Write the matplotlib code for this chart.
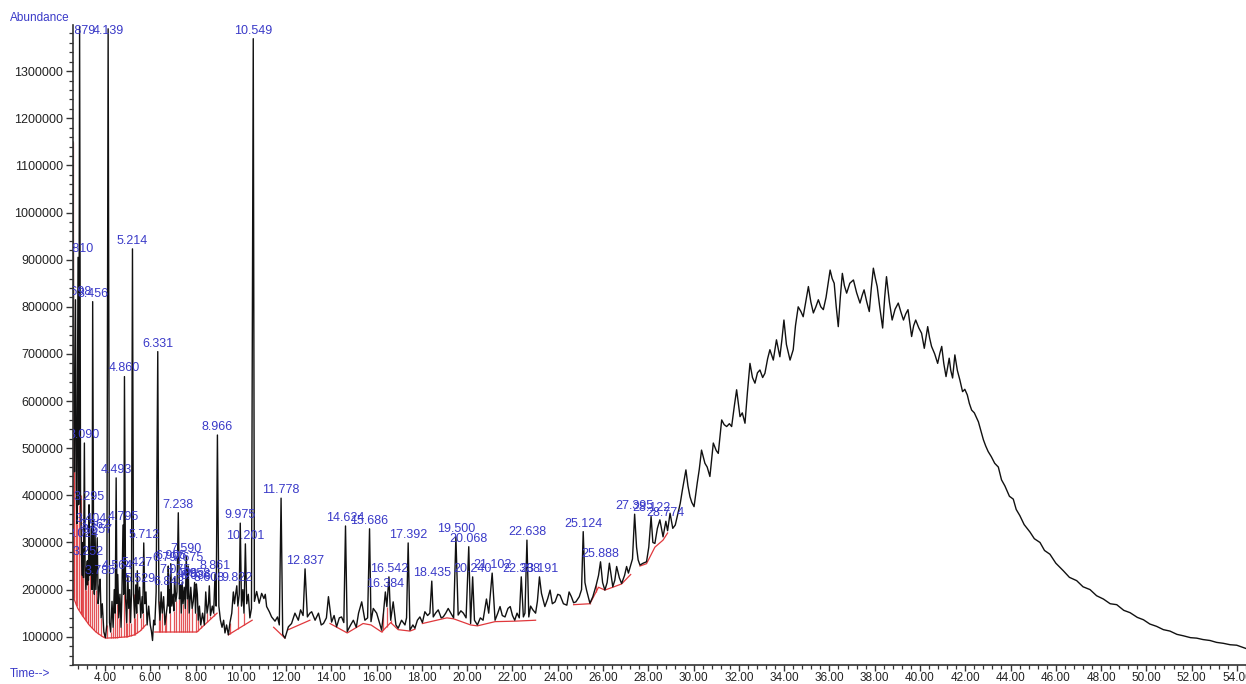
import numpy as np
import matplotlib
matplotlib.use("Agg")
import matplotlib.pyplot as plt
from matplotlib.ticker import MultipleLocator, FixedLocator, FuncFormatter

plt.rcParams['font.family'] = ['Liberation Sans', 'DejaVu Sans']

# ---- labelled peaks (retention time, label, apex abundance) ----
peak_rt = [2.698, 2.810, 2.879, 3.024, 3.090, 3.252, 3.295, 3.404, 3.456, 3.562,
           3.657, 3.785, 4.139, 4.493, 4.564, 4.795, 4.860, 5.214, 5.427, 5.529,
           5.712, 6.331, 6.797, 6.843, 6.905, 7.075, 7.238, 7.408, 7.590, 7.675,
           7.958, 8.036, 8.608, 8.861, 8.966, 9.822, 9.975, 10.201, 10.549, 11.778,
           12.837, 14.624, 15.686, 16.384, 16.542, 17.392, 18.435, 19.500, 20.068, 20.240,
           21.102, 22.388, 22.638, 23.191, 25.124, 25.888, 27.395, 28.122, 28.774]
peak_label = ["2.698", "2.810", "2.879", "3.024", "3.090", "3.252", "3.295", "3.404", "3.456", "3.562",
              "3.657", "3.785", "4.139", "4.493", "4.564", "4.795", "4.860", "5.214", "5.427", "5.529",
              "5.712", "6.331", "6.797", "6.843", "6.905", "7.075", "7.238", "7.408", "7.590", "7.675",
              "7.958", "8.036", "8.608", "8.861", "8.966", "9.822", "9.975", "10.201", "10.549", "11.778",
              "12.837", "14.624", "15.686", "16.384", "16.542", "17.392", "18.435", "19.500", "20.068", "20.240",
              "21.102", "22.388", "22.638", "23.191", "25.124", "25.888", "27.395", "28.122", "28.774"]
peak_abund = [815000, 905000, 1395000, 300000, 511000, 262000, 380000, 333000, 811000, 320000,
              310000, 222000, 1390000, 437000, 232000, 337000, 652000, 923000, 240000, 205000,
              299000, 705000, 250000, 200000, 255000, 225000, 363000, 215000, 270000, 250000,
              215000, 212000, 208000, 233000, 528000, 208000, 341000, 297000, 1369000, 394000,
              244000, 335000, 329000, 195000, 227000, 299000, 218000, 312000, 291000, 227000,
              235000, 227000, 305000, 227000, 323000, 259000, 360000, 355000, 345000]

# ---- rest of the total ion chromatogram (time, abundance) ----
trace_time = [
    2.59, 2.62, 2.65, 2.73, 2.76, 2.84, 2.92, 2.96, 3.00, 3.05, 3.12, 3.16, 3.20, 3.23, 3.27,
    3.33, 3.37, 3.43, 3.50, 3.53, 3.60, 3.70, 3.74, 3.83, 3.88, 3.95, 4.02, 4.08, 4.20, 4.25,
    4.31, 4.36, 4.41, 4.45, 4.53, 4.61, 4.66, 4.71, 4.75, 4.83, 4.91, 4.96, 5.01, 5.05, 5.09,
    5.13, 5.17, 5.26, 5.31, 5.36, 5.40, 5.47, 5.58, 5.64, 5.67, 5.76, 5.81, 5.86, 5.93, 6.00,
    6.05, 6.10, 6.15, 6.20, 6.26, 6.38, 6.43, 6.48, 6.53, 6.59, 6.65, 6.71, 6.76, 6.82, 6.87,
    6.95, 7.01, 7.04, 7.13, 7.18, 7.29, 7.34, 7.37, 7.45, 7.50, 7.55, 7.64, 7.72, 7.79, 7.85,
    7.90, 8.00, 8.08, 8.12, 8.17, 8.23, 8.31, 8.39, 8.45, 8.51, 8.57, 8.66, 8.74, 8.80, 8.91,
    9.03, 9.10, 9.17, 9.24, 9.30, 9.37, 9.45, 9.52, 9.60, 9.67, 9.72, 9.77, 9.87, 9.93, 10.03,
    10.09, 10.14, 10.26, 10.33, 10.40, 10.47, 10.60, 10.70, 10.81, 10.92, 11.02, 11.08, 11.14, 11.26, 11.36,
    11.51, 11.62, 11.70, 11.85, 11.95, 12.10, 12.24, 12.39, 12.54, 12.64, 12.75, 12.94, 13.05, 13.13, 13.28,
    13.43, 13.55, 13.65, 13.78, 13.87, 14.01, 14.12, 14.23, 14.35, 14.45, 14.55, 14.70, 14.85, 14.97, 15.10,
    15.20, 15.34, 15.48, 15.60, 15.75, 15.85, 16.00, 16.12, 16.22, 16.30, 16.45, 16.62, 16.73, 16.85, 16.95,
    17.10, 17.25, 17.32, 17.47, 17.60, 17.69, 17.80, 17.91, 18.02, 18.13, 18.25, 18.35, 18.50, 18.60, 18.72,
    18.85, 18.94, 19.05, 19.16, 19.30, 19.40, 19.60, 19.72, 19.83, 19.95, 20.15, 20.32, 20.45, 20.58, 20.70,
    20.85, 20.95, 21.23, 21.35, 21.45, 21.55, 21.67, 21.80, 21.90, 22.00, 22.10, 22.20, 22.30, 22.48, 22.55,
    22.72, 22.80, 22.90, 23.02, 23.10, 23.28, 23.43, 23.55, 23.66, 23.76, 23.88, 24.00, 24.10, 24.25, 24.40,
    24.50, 24.60, 24.70, 24.80, 24.95, 25.05, 25.20, 25.27, 25.42, 25.55, 25.70, 25.80, 25.98, 26.08, 26.18,
    26.28, 26.43, 26.52, 26.60, 26.72, 26.82, 26.95, 27.04, 27.12, 27.22, 27.30, 27.48, 27.55, 27.63, 27.77,
    27.92, 28.02, 28.20, 28.29, 28.40, 28.51, 28.65, 28.85, 28.96, 29.08, 29.19, 29.30, 29.41, 29.50, 29.66,
    29.75, 29.84, 29.92, 30.02, 30.16, 30.25, 30.35, 30.50, 30.60, 30.72, 30.87, 31.00, 31.09, 31.24, 31.35,
    31.46, 31.58, 31.68, 31.80, 31.90, 32.05, 32.15, 32.27, 32.38, 32.49, 32.60, 32.71, 32.82, 32.93, 33.05,
    33.15, 33.27, 33.37, 33.52, 33.66, 33.81, 33.90, 33.99, 34.10, 34.26, 34.40, 34.50, 34.62, 34.74, 34.84,
    34.95, 35.07, 35.18, 35.29, 35.40, 35.51, 35.62, 35.73, 35.85, 36.03, 36.12, 36.21, 36.30, 36.39, 36.48,
    36.57, 36.66, 36.76, 36.90, 37.06, 37.20, 37.35, 37.45, 37.53, 37.65, 37.76, 37.85, 37.94, 38.03, 38.11,
    38.22, 38.35, 38.44, 38.52, 38.65, 38.77, 38.90, 39.04, 39.15, 39.27, 39.37, 39.47, 39.55, 39.63, 39.72,
    39.81, 39.95, 40.07, 40.19, 40.34, 40.42, 40.51, 40.65, 40.78, 40.88, 40.96, 41.05, 41.15, 41.29, 41.36,
    41.44, 41.54, 41.65, 41.76, 41.88, 41.98, 42.09, 42.18, 42.28, 42.40, 42.58, 42.70, 42.80, 42.90, 43.01,
    43.15, 43.30, 43.46, 43.60, 43.75, 43.95, 44.12, 44.25, 44.41, 44.60, 44.86, 45.05, 45.30, 45.50, 45.74,
    46.00, 46.33, 46.60, 46.92, 47.20, 47.51, 47.80, 48.10, 48.40, 48.69, 49.00, 49.28, 49.60, 49.87, 50.15,
    50.45, 50.75, 51.04, 51.35, 51.63, 51.95, 52.22, 52.50, 52.81, 53.10, 53.40, 53.70, 53.99, 54.40]
trace_abund = [
    1150000, 600000, 450000, 420000, 340000, 380000, 400000, 280000, 230000, 225000, 250000, 200000, 260000, 210000, 220000,
    230000, 260000, 200000, 230000, 190000, 200000, 170000, 200000, 140000, 170000, 110000, 98000, 125000, 130000, 110000,
    175000, 120000, 200000, 150000, 170000, 140000, 190000, 120000, 195000, 190000, 180000, 130000, 230000, 160000, 200000,
    130000, 190000, 190000, 140000, 210000, 150000, 170000, 140000, 185000, 150000, 170000, 195000, 125000, 165000, 125000,
    112000, 92000, 135000, 125000, 195000, 175000, 135000, 195000, 150000, 185000, 125000, 150000, 170000, 165000, 150000,
    165000, 190000, 155000, 175000, 195000, 180000, 210000, 150000, 170000, 205000, 160000, 180000, 150000, 205000, 160000,
    175000, 150000, 190000, 135000, 165000, 125000, 150000, 125000, 195000, 150000, 170000, 145000, 165000, 150000, 165000,
    165000, 135000, 120000, 135000, 108000, 125000, 104000, 130000, 150000, 195000, 170000, 190000, 165000, 190000, 165000,
    200000, 150000, 170000, 190000, 140000, 160000, 175000, 196000, 171000, 192000, 181000, 190000, 164000, 153000, 142000,
    133000, 142000, 125000, 105000, 97000, 121000, 128000, 150000, 135000, 157000, 145000, 142000, 150000, 153000, 135000,
    150000, 125000, 128000, 140000, 185000, 131000, 145000, 121000, 140000, 142000, 130000, 111000, 125000, 135000, 120000,
    150000, 174000, 135000, 140000, 132000, 160000, 150000, 130000, 114000, 150000, 164000, 135000, 174000, 125000, 118000,
    135000, 125000, 140000, 114000, 125000, 118000, 135000, 142000, 130000, 153000, 145000, 150000, 142000, 150000, 157000,
    140000, 142000, 150000, 160000, 148000, 140000, 146000, 155000, 150000, 140000, 128000, 135000, 125000, 140000, 135000,
    180000, 150000, 135000, 150000, 164000, 145000, 142000, 160000, 164000, 145000, 135000, 150000, 140000, 142000, 150000,
    142000, 165000, 157000, 150000, 175000, 192000, 164000, 180000, 199000, 170000, 174000, 190000, 188000, 170000, 167000,
    195000, 185000, 172000, 174000, 185000, 200000, 215000, 199000, 171000, 185000, 210000, 230000, 215000, 199000, 215000,
    256000, 206000, 220000, 249000, 225000, 213000, 230000, 249000, 235000, 252000, 265000, 290000, 263000, 252000, 256000,
    259000, 290000, 300000, 298000, 330000, 348000, 312000, 325000, 362000, 330000, 337000, 360000, 383000, 410000, 454000,
    420000, 397000, 385000, 376000, 426000, 455000, 496000, 468000, 460000, 440000, 511000, 495000, 489000, 560000, 550000,
    546000, 552000, 546000, 590000, 624000, 567000, 575000, 553000, 620000, 680000, 650000, 638000, 660000, 666000, 650000,
    659000, 690000, 709000, 687000, 730000, 694000, 730000, 772000, 720000, 687000, 709000, 760000, 800000, 790000, 779000,
    810000, 843000, 810000, 787000, 800000, 815000, 800000, 794000, 820000, 878000, 860000, 850000, 800000, 758000, 820000,
    871000, 845000, 829000, 850000, 857000, 830000, 808000, 825000, 836000, 810000, 790000, 840000, 882000, 860000, 843000,
    800000, 755000, 820000, 864000, 810000, 772000, 795000, 808000, 790000, 772000, 785000, 794000, 765000, 737000, 760000,
    772000, 755000, 744000, 712000, 758000, 735000, 716000, 700000, 680000, 702000, 716000, 680000, 652000, 691000, 665000,
    649000, 698000, 665000, 645000, 620000, 625000, 613000, 595000, 581000, 575000, 556000, 535000, 518000, 505000, 493000,
    482000, 468000, 460000, 433000, 420000, 398000, 392000, 370000, 357000, 338000, 322000, 308000, 300000, 283000, 275000,
    256000, 240000, 226000, 219000, 206000, 200000, 187000, 180000, 170000, 168000, 156000, 151000, 141000, 136000, 127000,
    122000, 115000, 112000, 105000, 102000, 98000, 97000, 94000, 92000, 88000, 86000, 83000, 82000, 75000]

# ---- integration baseline (red), None = break ----
base_time = [2.59, 2.80, 3.00, 3.30, 3.60, 3.90, 4.02, 4.50, 5.00, 5.30, 5.55, 5.80, None,
             6.20, 8.06, 8.95, None,
             9.45, 10.50, None,
             11.45, 11.95, None,
             12.10, 13.05, None,
             13.94, 14.70, 15.40, 15.75, 16.22, 16.62, 16.95, 17.47, 17.69, None,
             18.02, 19.10, 19.40, 20.15, 20.45, 21.23, 22.10, 23.02, None,
             24.70, 25.42, 25.80, 26.08, 26.43, 26.82, 27.22, None,
             27.63, 27.92, 28.29, 28.65, 28.85]
base_abund = [185000, 160000, 145000, 125000, 110000, 100000, 97000, 98000, 100000, 104000, 112000, 125000, None,
              110000, 110000, 150000, None,
              104000, 135000, None,
              120000, 97000, None,
              115000, 135000, None,
              128000, 108000, 128000, 125000, 110000, 130000, 115000, 112000, 116000, None,
              128000, 140000, 138000, 125000, 123000, 132000, 133000, 135000, None,
              168000, 170000, 205000, 199000, 205000, 212000, 232000, None,
              250000, 255000, 290000, 305000, 320000]

# ---- peak boundary drop lines (red verticals) ----
drop_time = [2.59, 2.62, 2.65, 2.73, 2.76, 2.84, 2.92, 2.96, 3.00, 3.05, 3.12, 3.16, 3.23, 3.27,
             3.33, 3.43, 3.53, 3.60, 3.70, 3.83, 3.95, 4.08, 4.25, 4.36, 4.45, 4.53, 4.61, 4.71,
             4.83, 4.91, 4.96, 5.05, 5.13, 5.26, 5.31, 5.40, 5.58, 5.67, 6.38, 6.43, 6.53, 6.65,
             6.71, 6.87, 7.04, 7.13, 7.29, 7.37, 7.45, 7.55, 7.64, 7.72, 7.85, 8.00, 8.12, 8.23,
             8.39, 8.51, 8.66, 8.80, 9.52, 9.87, 10.14, 16.22, 16.30, 16.45, 16.62, 25.42, 25.70]

x_ticks = [4.00 + 2 * i for i in range(26)]
y_ticks = [100000 * i for i in range(1, 14)]

TRACE_C = '#111111'
RED = '#e0383c'
BLUE = '#3a3ac8'

fig = plt.figure(figsize=(12.46, 6.84), dpi=100)
ax = fig.add_axes([73 / 1246, 19 / 684, 1 - 73 / 1246, (665 - 25) / 684])

# merge trace with labelled apexes
t_all = np.array(trace_time + peak_rt, dtype=float)
a_all = np.array(trace_abund + peak_abund, dtype=float)
order = np.argsort(t_all)
t_all, a_all = t_all[order], a_all[order]

bt = np.array([np.nan if v is None else v for v in base_time], dtype=float)
ba = np.array([np.nan if v is None else v for v in base_abund], dtype=float)
ok = ~np.isnan(bt)

# drop lines
dt = np.array(drop_time)
top = np.interp(dt, t_all, a_all)
bot = np.interp(dt, bt[ok], ba[ok])
m = top > bot
ax.vlines(dt[m], bot[m], top[m], colors=RED, lw=0.9, alpha=0.85, zorder=1)

# baseline
ax.plot(bt, ba, color=RED, lw=0.9, zorder=1.5)

# trace
ax.plot(t_all, a_all, color=TRACE_C, lw=1.0, zorder=2)

YMIN, YMAX = 40000, 1398000
XMIN, XMAX = 2.587, 54.40
ax.set_xlim(XMIN, XMAX)
ax.set_ylim(YMIN, YMAX)

# peak labels
for rt, lab, ab in zip(peak_rt, peak_label, peak_abund):
    ax.annotate(lab, xy=(rt, min(ab, 1369000)), xytext=(0, 1.5), textcoords='offset points',
                ha='center', va='bottom', fontsize=9, color=BLUE, clip_on=True,
                annotation_clip=False, zorder=3)

for s in ['top', 'right']:
    ax.spines[s].set_visible(False)
for s in ['left', 'bottom']:
    ax.spines[s].set_color('#333333')
    ax.spines[s].set_linewidth(1.2)

ax.xaxis.set_major_locator(FixedLocator(x_ticks))
ax.xaxis.set_minor_locator(MultipleLocator(0.4))
ax.xaxis.set_major_formatter(FuncFormatter(lambda v, p: f"{v:.2f}"))
ax.yaxis.set_major_locator(FixedLocator(y_ticks))
ax.yaxis.set_minor_locator(MultipleLocator(20000))
ax.yaxis.set_major_formatter(FuncFormatter(lambda v, p: f"{int(round(v))}"))
ax.tick_params(axis='y', which='major', length=5, width=1.0, color='#333333',
               labelsize=9, labelcolor='#222222', pad=2)
ax.tick_params(axis='x', which='major', length=4, width=1.0, color='#333333',
               labelsize=8.5, labelcolor='#222222', pad=1)
ax.tick_params(axis='both', which='minor', length=3, width=0.9, color='#333333')

fig.text(10 / 1246, 1 - 18 / 684, "Abundance", color=BLUE, fontsize=8.5, ha='left', va='center')
fig.text(10 / 1246, 1 - 674 / 684, "Time-->", color=BLUE, fontsize=8.5, ha='left', va='center')

fig.savefig("out.png", dpi=100)
